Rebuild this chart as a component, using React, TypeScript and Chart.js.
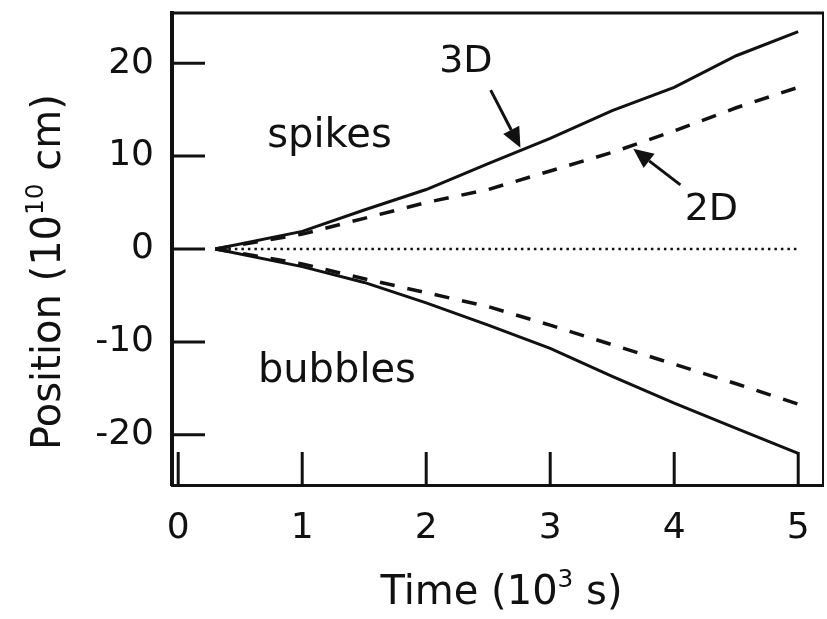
import { useEffect, useRef } from 'react';
import { Chart, registerables } from 'chart.js';

Chart.register(...registerables);

// ---- data (time in 10^3 s, position in 10^10 cm) ----
const TIME = [0.3, 1, 1.5, 2, 2.5, 3, 3.5, 4, 4.5, 5];
const SPIKES_3D = [0, 1.9, 4.2, 6.4, 9.2, 11.9, 14.9, 17.4, 20.8, 23.4];
const SPIKES_2D = [0, 1.6, 3.3, 5.0, 6.4, 8.4, 10.4, 12.7, 15.2, 17.4];
const BUBBLES_3D = [0, -1.9, -3.6, -5.8, -8.2, -10.7, -13.7, -16.6, -19.3, -22.0];
const BUBBLES_2D = [0, -1.6, -3.2, -4.7, -6.2, -8.2, -10.3, -12.4, -14.5, -16.7];
const INTERFACE = [0, 0, 0, 0, 0, 0, 0, 0, 0, 0];

const X_TICKS = [0, 1, 2, 3, 4, 5];
const Y_TICKS = [-20, -10, 0, 10, 20];
const X_RANGE = [-0.05, 5.2];
const Y_RANGE = [-25.4, 25.4];

const X_TITLE = [{ text: 'Time (10' }, { text: '3', sup: true }, { text: ' s)' }];
const Y_TITLE = [{ text: 'Position (10' }, { text: '10', sup: true }, { text: ' cm)' }];

// annotation labels and arrows, in data units
const LABELS = [
  { text: 'spikes', x: 1.22, y: 11.0, size: 40 },
  { text: 'bubbles', x: 1.28, y: -14.3, size: 40 },
  { text: '3D', x: 2.32, y: 19.0, size: 38 },
  { text: '2D', x: 4.3, y: 3.1, size: 38 },
];
const ARROWS = [
  { from: [2.52, 17.1], to: [2.76, 10.9] },
  { from: [4.05, 6.9], to: [3.67, 10.8] },
];

const FONT = '"DejaVu Sans", "Liberation Sans", Arial, sans-serif';
const INK = '#111';

function pts(ys: number[]) {
  return TIME.map((t, i) => ({ x: t, y: ys[i] }));
}

function drawRich(ctx: CanvasRenderingContext2D, parts: any[], x: number, y: number, size: number) {
  const supSize = size * 0.62;
  const f = (s: number) => `${s}px ${FONT}`;
  let total = 0;
  const widths = parts.map((p) => {
    ctx.font = f(p.sup ? supSize : size);
    const w = ctx.measureText(p.text).width;
    total += w;
    return w;
  });
  let cx = x - total / 2;
  ctx.textAlign = 'left';
  ctx.textBaseline = 'alphabetic';
  parts.forEach((p, i) => {
    ctx.font = f(p.sup ? supSize : size);
    ctx.fillText(p.text, cx, p.sup ? y - size * 0.42 : y);
    cx += widths[i];
  });
}

const decorPlugin = {
  id: 'decor',
  afterDraw(chart: any) {
    const { ctx, chartArea: a, scales } = chart;
    const xs = scales.x;
    const ys = scales.y;
    ctx.save();
    ctx.strokeStyle = INK;
    ctx.fillStyle = INK;
    ctx.lineCap = 'butt';

    // top and right frame
    ctx.lineWidth = 3;
    ctx.beginPath();
    ctx.moveTo(a.left - 2, a.top);
    ctx.lineTo(a.right + 1, a.top);
    ctx.stroke();
    ctx.lineWidth = 2;
    ctx.beginPath();
    ctx.moveTo(a.right, a.top);
    ctx.lineTo(a.right, a.bottom);
    ctx.stroke();

    // inward tick marks
    const len = 33;
    ctx.lineWidth = 3;
    X_TICKS.forEach((v) => {
      const px = xs.getPixelForValue(v);
      ctx.beginPath();
      ctx.moveTo(px, a.bottom);
      ctx.lineTo(px, a.bottom - len);
      ctx.stroke();
    });
    Y_TICKS.forEach((v) => {
      const py = ys.getPixelForValue(v);
      ctx.beginPath();
      ctx.moveTo(a.left, py);
      ctx.lineTo(a.left + len, py);
      ctx.stroke();
    });

    // labels
    ctx.textAlign = 'center';
    ctx.textBaseline = 'alphabetic';
    LABELS.forEach((l) => {
      ctx.font = `${l.size}px ${FONT}`;
      ctx.fillText(l.text, xs.getPixelForValue(l.x), ys.getPixelForValue(l.y));
    });

    // arrows
    ARROWS.forEach((ar) => {
      const x0 = xs.getPixelForValue(ar.from[0]);
      const y0 = ys.getPixelForValue(ar.from[1]);
      const x1 = xs.getPixelForValue(ar.to[0]);
      const y1 = ys.getPixelForValue(ar.to[1]);
      const ang = Math.atan2(y1 - y0, x1 - x0);
      const hl = 20;
      const hw = 9;
      const bx = x1 - hl * Math.cos(ang);
      const by = y1 - hl * Math.sin(ang);
      ctx.lineWidth = 3;
      ctx.beginPath();
      ctx.moveTo(x0, y0);
      ctx.lineTo(bx, by);
      ctx.stroke();
      ctx.beginPath();
      ctx.moveTo(x1, y1);
      ctx.lineTo(bx + hw * Math.sin(ang), by - hw * Math.cos(ang));
      ctx.lineTo(bx - hw * Math.sin(ang), by + hw * Math.cos(ang));
      ctx.closePath();
      ctx.fill();
    });

    // axis titles
    drawRich(ctx, X_TITLE, (a.left + a.right) / 2 + 4, 604, 40);
    ctx.save();
    ctx.translate(60, (a.top + a.bottom) / 2 + 23);
    ctx.rotate(-Math.PI / 2);
    drawRich(ctx, Y_TITLE, 0, 0, 40);
    ctx.restore();

    ctx.restore();
  },
};

export default function App() {
  const ref = useRef<HTMLCanvasElement | null>(null);

  useEffect(() => {
    document.body.style.margin = '0';
    document.body.style.background = '#fff';
    const canvas = ref.current;
    if (!canvas) return;
    const line = (data: number[], width: number, dash: number[]) => ({
      data: pts(data),
      borderColor: INK,
      borderWidth: width,
      borderDash: dash,
      pointRadius: 0,
      tension: 0,
      fill: false,
    });
    const chart = new Chart(canvas, {
      type: 'line',
      data: {
        datasets: [
          line(INTERFACE, 2.5, [2.5, 4]),
          line(SPIKES_2D, 3.5, [15, 13]),
          line(BUBBLES_2D, 3.5, [15, 13]),
          line(SPIKES_3D, 3, []),
          line(BUBBLES_3D, 3, []),
        ],
      },
      options: {
        responsive: false,
        animation: false,
        events: [],
        layout: { padding: { top: 13, right: 4, left: 0, bottom: 0 } },
        plugins: { legend: { display: false }, tooltip: { enabled: false } },
        scales: {
          x: {
            type: 'linear',
            min: X_RANGE[0],
            max: X_RANGE[1],
            afterBuildTicks: (s: any) => {
              s.ticks = X_TICKS.map((v) => ({ value: v }));
            },
            afterFit: (s: any) => {
              s.height = 134;
              s.paddingLeft = 0;
              s.paddingRight = 0;
            },
            grid: { display: false, drawTicks: false },
            border: { display: true, color: INK, width: 3 },
            ticks: {
              color: INK,
              font: { family: FONT, size: 36 },
              padding: 22,
              maxRotation: 0,
              autoSkip: false,
            },
          },
          y: {
            type: 'linear',
            min: Y_RANGE[0],
            max: Y_RANGE[1],
            afterBuildTicks: (s: any) => {
              s.ticks = Y_TICKS.map((v) => ({ value: v }));
            },
            afterFit: (s: any) => {
              s.width = 172;
              s.paddingTop = 0;
              s.paddingBottom = 0;
            },
            grid: { display: false, drawTicks: false },
            border: { display: true, color: INK, width: 4 },
            ticks: {
              color: INK,
              font: { family: FONT, size: 36 },
              padding: 18,
              autoSkip: false,
            },
          },
        },
      },
      plugins: [decorPlugin],
    });
    return () => chart.destroy();
  }, []);

  return <canvas ref={ref} width={827} height={619} style={{ display: 'block' }} />;
}
